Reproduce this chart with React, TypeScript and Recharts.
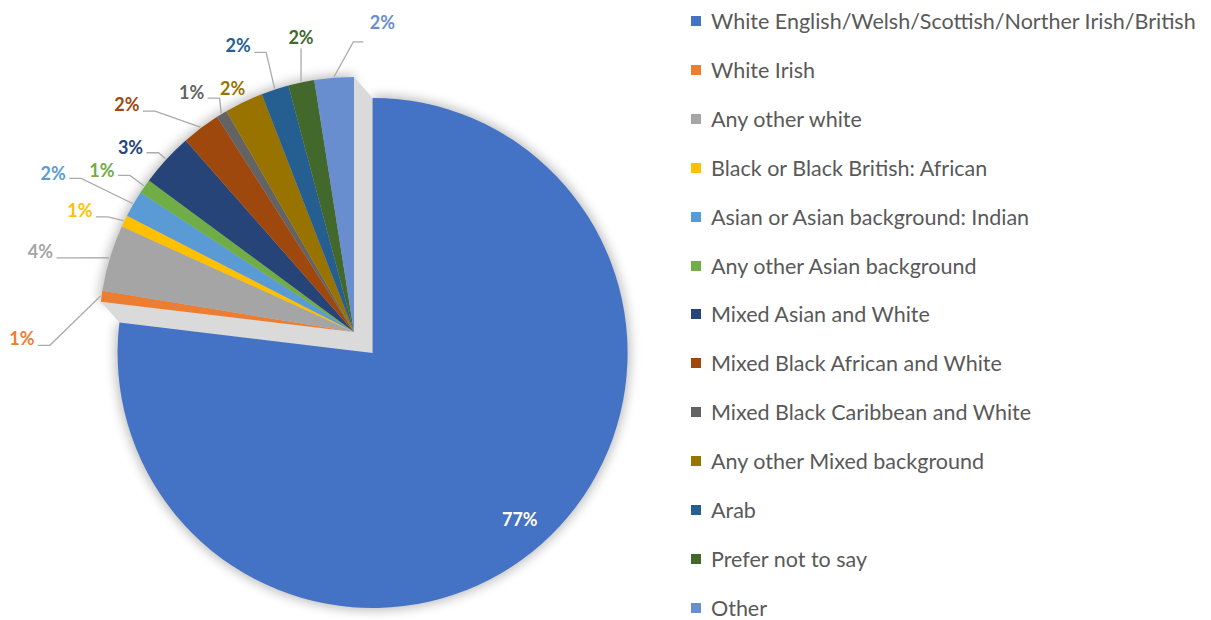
import React from 'react';
import { PieChart, Pie, Cell, Legend } from 'recharts';

const categories = [
  'White English/Welsh/Scottish/Norther Irish/British',
  'White Irish',
  'Any other white',
  'Black or Black British: African',
  'Asian or Asian background: Indian',
  'Any other Asian background',
  'Mixed Asian and White',
  'Mixed Black African and White',
  'Mixed Black Caribbean and White',
  'Any other Mixed background',
  'Arab',
  'Prefer not to say',
  'Other',
];

const values = [76.9, 0.68, 4.21, 0.74, 1.68, 0.92, 3.4, 2.45, 0.68, 2.45, 1.75, 1.65, 2.49];

const colors = [
  '#4472C4', '#ED7D31', '#A5A5A5', '#FFC000', '#5B9BD5', '#70AD47',
  '#264478', '#9E480E', '#636363', '#997300', '#255E91', '#43682B', '#698ED0',
];

const data = categories.map((name, i) => ({ name, value: values[i] }));

// layout constants
const W = 1211;
const H = 620;
const R = 255;
const SC = { x: 354, y: 332 }; // centre of the small slices
const EXPLODE = 28;
const total = values.reduce((a, b) => a + b, 0);
const bigEnd = (values[0] / total) * 360; // clockwise degrees from 12 o'clock
const bigMid = bigEnd / 2;
const BC = {
  x: SC.x + EXPLODE * Math.sin((bigMid * Math.PI) / 180),
  y: SC.y - EXPLODE * Math.cos((bigMid * Math.PI) / 180),
};

const RADIAN = Math.PI / 180;
const polar = (cx: number, cy: number, r: number, angle: number) => ({
  x: cx + r * Math.cos(-angle * RADIAN),
  y: cy + r * Math.sin(-angle * RADIAN),
});
// clockwise-from-top helper
const cw = (c: { x: number; y: number }, r: number, deg: number) => ({
  x: c.x + r * Math.sin(deg * RADIAN),
  y: c.y - r * Math.cos(deg * RADIAN),
});
const sectorPath = (c: { x: number; y: number }, r: number, a1: number, a2: number) => {
  const p1 = cw(c, r, a1);
  const p2 = cw(c, r, a2);
  const large = a2 - a1 > 180 ? 1 : 0;
  return `M${c.x},${c.y} L${p1.x},${p1.y} A${r},${r} 0 ${large} 1 ${p2.x},${p2.y} Z`;
};

// label nudges: [dx, dy, leader mode, attach dy]
const LABEL_LAYOUT: [number, number, string, number][] = [
  [0, 0, 'none', 0],
  [-45, 47, 'left', 7],
  [-36, 3, 'left', 7],
  [-13, 4, 'left', 7],
  [-50, -13, 'left', 5],
  [-14, 4, 'left', 5],
  [-10, 11, 'left', 6],
  [-53, 4, 'left', 7],
  [-12, 8, 'left', 6],
  [4, 18, 'none', 0],
  [-26, -11, 'left', 7],
  [7, -11, 'below', 11],
  [51, -21, 'right', 20],
];

const LABEL_FONT = 'Lato, "Open Sans", sans-serif';

const renderSmallLabel = (props: any) => {
  const { cx, cy, midAngle, outerRadius, percent, index } = props;
  if (index === 0) return null;
  const base = polar(cx, cy, outerRadius + 35, midAngle);
  const [dx, dy, mode, ady] = LABEL_LAYOUT[index];
  const lx = base.x + dx;
  const ly = base.y + dy;
  const text = `${Math.round(percent * 100)}%`;
  const hw = text.length * 6.5;
  const p0 = polar(cx, cy, outerRadius + 1, midAngle);
  let pts: number[][] | null = null;
  if (mode === 'left') {
    const ax = lx + hw + 3;
    const ay = ly + ady;
    pts = [[ax, ay], [ax + 12, ay], [p0.x, p0.y]];
  } else if (mode === 'right') {
    const ax = lx - hw - 6;
    const ay = ly + ady;
    pts = [[ax, ay], [ax - 10, ay], [p0.x, p0.y]];
  } else if (mode === 'below') {
    pts = [[lx, ly + ady], [p0.x, p0.y]];
  }
  return (
    <g key={`lbl-${index}`}>
      {pts && (
        <polyline
          points={pts.map((p) => p.join(',')).join(' ')}
          fill="none"
          stroke="#ABABAB"
          strokeWidth={1.3}
        />
      )}
      <text
        x={lx}
        y={ly}
        fill={colors[index]}
        textAnchor="middle"
        dominantBaseline="central"
        fontFamily={LABEL_FONT}
        fontWeight={700}
        fontSize={18}
      >
        {text}
      </text>
    </g>
  );
};

const renderBigLabel = (props: any) => {
  const { cx, cy, midAngle, outerRadius, percent, index } = props;
  if (index !== 0) return null;
  const p = polar(cx, cy, outerRadius * 0.87, midAngle);
  return (
    <text
      key="big-label"
      x={p.x}
      y={p.y}
      fill="#FFFFFF"
      textAnchor="middle"
      dominantBaseline="central"
      fontFamily={LABEL_FONT}
      fontWeight={700}
      fontSize={18}
    >
      {`${Math.round(percent * 100)}%`}
    </text>
  );
};

const LegendContent = () => (
  <div style={{ position: 'relative', width: 520, height: 620 }}>
    {categories.map((name, i) => {
      const cy = 21 + i * 48.9;
      return (
        <div key={name}>
          <div
            style={{
              position: 'absolute',
              left: 0,
              top: cy - 5,
              width: 10,
              height: 10,
              background: colors[i],
            }}
          />
          <div
            style={{
              position: 'absolute',
              left: 20,
              top: cy - 9,
              height: 18,
              lineHeight: '18px',
              fontFamily: 'Lato, "Open Sans", sans-serif',
              fontSize: 21.5,
              color: '#595959',
              whiteSpace: 'nowrap',
            }}
          >
            {name}
          </div>
        </div>
      );
    })}
  </div>
);

// gap (shadow band) between the exploded slice and the rest
const gapPoly = (() => {
  const a = cw(SC, R, 0);
  const b = cw(BC, R, 0);
  const c = cw(BC, R, bigEnd);
  const d = cw(SC, R, bigEnd);
  return [a, b, BC, c, d, SC].map((p) => `${p.x},${p.y}`).join(' ');
})();

export default function App() {
  return (
    <div style={{ position: 'absolute', left: 0, top: 0, width: W, height: H, background: '#fff', overflow: 'hidden' }}>
      <svg width={W} height={H} style={{ position: 'absolute', left: 0, top: 0 }}>
        <defs>
          <filter id="soft" x="-20%" y="-20%" width="140%" height="140%">
            <feGaussianBlur stdDeviation="6" />
          </filter>
        </defs>
        <g filter="url(#soft)" opacity={0.28}>
          <path d={sectorPath(SC, R + 2, bigEnd, 360)} fill="#000" />
          <path d={sectorPath(BC, R + 2, 0, bigEnd)} fill="#000" />
        </g>
        <polygon points={gapPoly} fill="#DADADA" />
      </svg>
      <div style={{ position: 'absolute', left: 0, top: 0 }}>
        <PieChart width={W} height={H} margin={{ top: 0, right: 0, bottom: 0, left: 0 }}>
          <Pie
            data={data}
            dataKey="value"
            nameKey="name"
            cx={BC.x}
            cy={BC.y}
            outerRadius={R}
            startAngle={90}
            endAngle={-270}
            stroke="none"
            isAnimationActive={false}
            label={renderBigLabel}
            labelLine={false}
            legendType="none"
          >
            {data.map((d, i) => (
              <Cell key={`b-${i}`} fill={i === 0 ? colors[i] : 'transparent'} stroke="none" />
            ))}
          </Pie>
          <Pie
            data={data}
            dataKey="value"
            nameKey="name"
            cx={SC.x}
            cy={SC.y}
            outerRadius={R}
            startAngle={90}
            endAngle={-270}
            stroke="none"
            isAnimationActive={false}
            label={renderSmallLabel}
            labelLine={false}
          >
            {data.map((d, i) => (
              <Cell key={`s-${i}`} fill={i === 0 ? 'transparent' : colors[i]} stroke="none" />
            ))}
          </Pie>
          <Legend
            content={<LegendContent />}
            wrapperStyle={{ position: 'absolute', left: 691, top: 0, width: 520, height: 620 }}
          />
        </PieChart>
      </div>
    </div>
  );
}
